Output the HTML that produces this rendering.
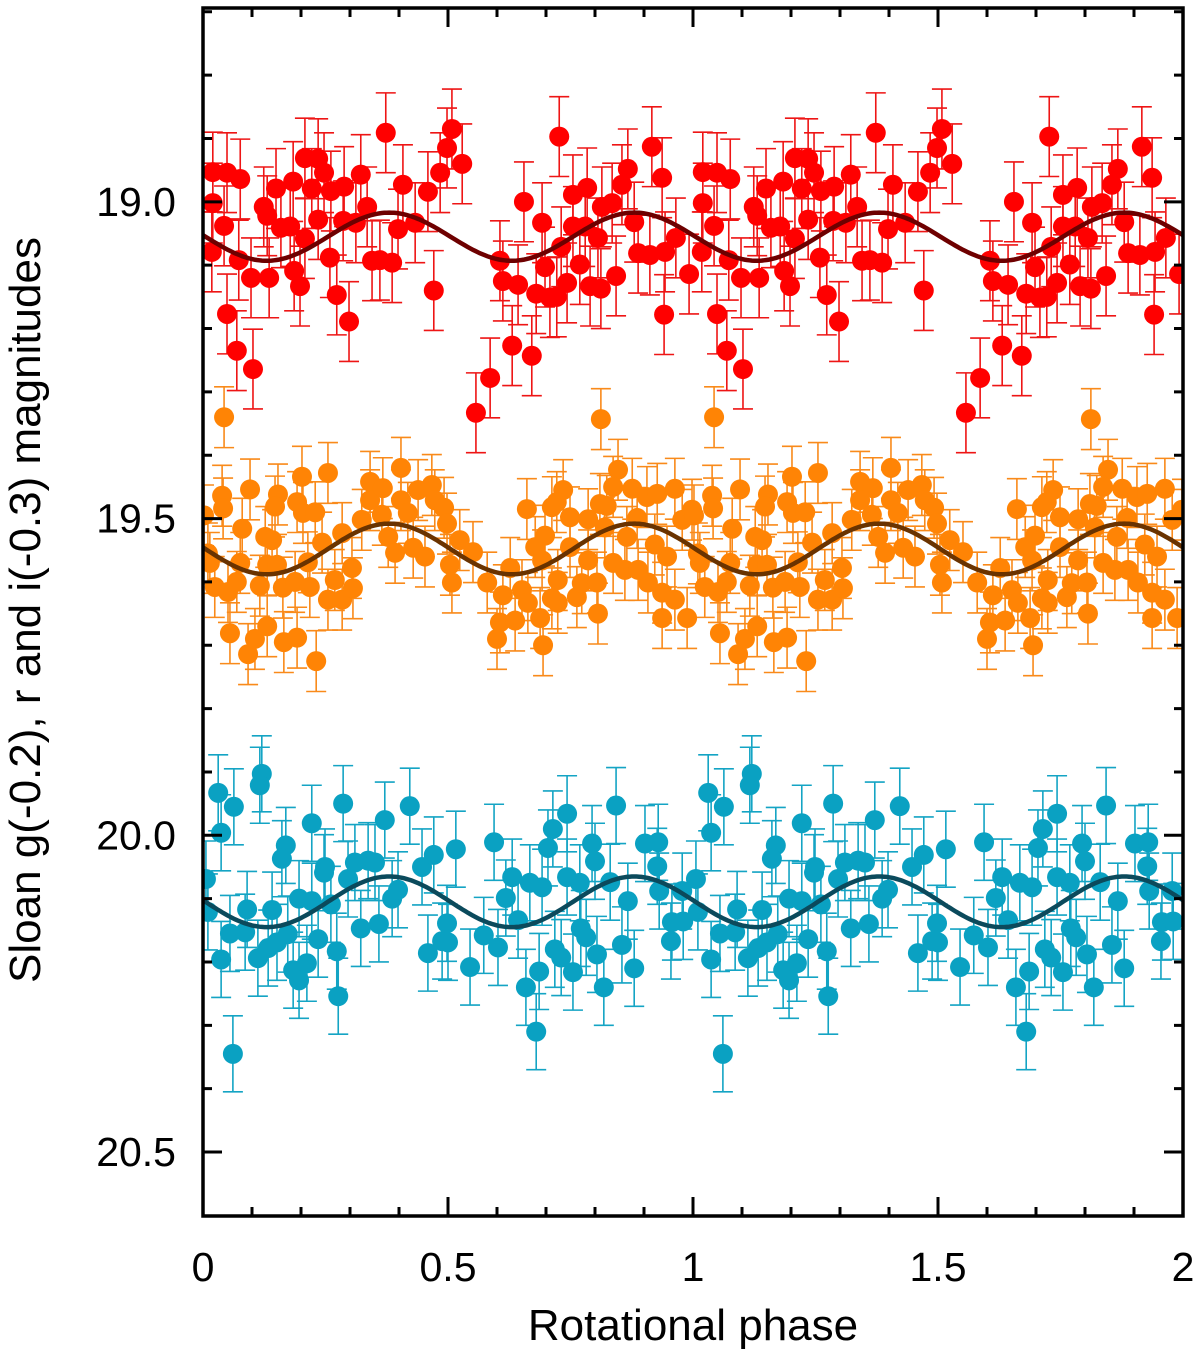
<!DOCTYPE html>
<html><head><meta charset="utf-8"><style>
html,body{margin:0;padding:0;background:#fff;}
svg{display:block;font-family:"Liberation Sans",sans-serif;}
</style></head><body>
<svg id="chart" width="1200" height="1354" viewBox="0 0 1200 1354" xmlns="http://www.w3.org/2000/svg">
<defs><clipPath id="clip"><rect x="203" y="8" width="980" height="1208"/></clipPath></defs>
<g id="series" clip-path="url(#clip)"></g>
<g id="axes"></g>
<text x="693" y="1340" font-size="44" text-anchor="middle">Rotational phase</text>
<text x="0" y="0" font-size="44" text-anchor="middle" transform="translate(40,610) rotate(-90)">Sloan g(-0.2), r and i(-0.3) magnitudes</text>
</svg>
<script>
const redPhase=[.020,.049,.076,.020,.043,.018,.073,.098,.049,.069,.102,.124,.131,.149,.135,.159,.178,.184,.186,.198,.208,.208,.222,.235,.247,.235,.261,.259,.273,.288,.286,.298,.312,.322,.335,.345,.361,.386,.373,.398,.408,.433,.459,.471,.484,.498,.508,.529,.727,.655,.692,.606,.612,.643,.680,.698,.708,.722,.731,.743,.755,.755,.769,.784,.780,.790,.806,.812,.814,.835,.843,.855,.867,.880,.888,.912,.916,.937,.943,.941,.965,.992,.631,.671,.586,.557];
const redMag=[18.953,18.954,18.964,19.002,19.038,19.079,19.092,19.120,19.177,19.235,19.264,19.008,19.022,18.979,19.120,19.041,19.039,18.968,19.109,19.133,18.931,19.058,18.979,18.932,18.954,19.028,18.983,19.088,19.147,18.976,19.030,19.189,19.033,18.957,19.008,19.093,19.092,19.096,18.891,19.043,18.973,19.033,18.984,19.140,18.954,18.915,18.885,18.940,18.897,19.000,19.033,19.093,19.125,19.131,19.145,19.103,19.151,19.150,19.071,19.128,19.039,18.989,19.099,18.978,19.039,19.133,19.057,19.137,19.008,19.002,19.117,18.973,18.948,19.032,19.081,19.084,18.913,18.962,19.079,19.178,19.057,19.114,19.227,19.243,19.278,19.333];
const orangePhase=[.043,.096,.039,.041,.002,.080,.010,.014,.024,.051,.069,.076,.055,.092,.106,.131,.116,.127,.141,.131,.151,.153,.147,.163,.165,.192,.188,.192,.202,.204,.229,.218,.214,.231,.243,.255,.255,.269,.284,.284,.304,.306,.324,.341,.341,.367,.365,.378,.392,.404,.404,.418,.429,.439,.453,.467,.473,.492,.498,.504,.508,.812,.661,.735,.712,.722,.749,.786,.810,.824,.847,.837,.876,.906,.927,.963,.524,.551,.580,.612,.627,.606,.637,.600,.651,.663,.678,.692,.698,.688,.694,.712,.724,.724,.749,.763,.773,.786,.804,.806,.820,.837,.861,.865,.886,.888,.908,.922,.937,.947,.963,.937,.988,.978,.998];
const orangeMag=[19.340,19.454,19.464,19.484,19.495,19.516,19.555,19.570,19.608,19.616,19.600,19.570,19.681,19.714,19.690,19.670,19.606,19.529,19.534,19.573,19.573,19.462,19.481,19.609,19.695,19.688,19.600,19.474,19.434,19.491,19.490,19.608,19.569,19.725,19.538,19.428,19.628,19.597,19.628,19.523,19.578,19.610,19.502,19.442,19.471,19.452,19.494,19.529,19.554,19.420,19.471,19.491,19.546,19.455,19.560,19.447,19.471,19.483,19.508,19.573,19.601,19.343,19.485,19.455,19.482,19.474,19.498,19.501,19.477,19.480,19.423,19.450,19.453,19.466,19.461,19.453,19.534,19.553,19.601,19.621,19.578,19.664,19.661,19.690,19.613,19.633,19.545,19.566,19.527,19.657,19.700,19.626,19.633,19.597,19.545,19.624,19.602,19.566,19.601,19.650,19.514,19.570,19.581,19.529,19.499,19.581,19.601,19.541,19.617,19.560,19.628,19.657,19.657,19.502,19.486];
const cyanPhase=[.031,.063,.037,.120,.116,.006,.010,.055,.086,.090,.037,.061,.112,.141,.133,.151,.173,.169,.161,.196,.222,.184,.212,.196,.222,.249,.247,.235,.261,.273,.276,.286,.296,.310,.337,.351,.322,.359,.371,.386,.398,.422,.447,.471,.459,.488,.498,.516,.594,.631,.618,.643,.573,.602,.545,.500,.667,.692,.704,.714,.743,.743,.769,.794,.800,.686,.659,.680,.718,.731,.755,.771,.782,.804,.818,.831,.843,.855,.867,.880,.902,.929,.927,.931,.957,.955,.980,.978];
const cyanMag=[19.933,19.955,19.996,19.903,19.921,20.069,20.121,20.155,20.153,20.117,20.196,20.345,20.194,20.118,20.178,20.169,20.156,20.016,20.037,20.100,20.104,20.213,20.202,20.229,19.981,20.050,20.059,20.164,20.109,20.183,20.254,19.950,20.069,20.043,20.040,20.043,20.147,20.140,19.976,20.100,20.086,19.954,20.050,20.031,20.186,20.167,20.139,20.022,20.011,20.066,20.099,20.134,20.158,20.177,20.208,20.169,20.075,20.082,20.020,19.990,19.966,20.066,20.075,20.013,20.041,20.215,20.240,20.310,20.180,20.193,20.216,20.147,20.161,20.188,20.240,20.074,19.953,20.173,20.104,20.210,20.013,20.011,20.049,20.088,20.137,20.167,20.136,20.088];
const seriesErr=[0.063,0.048,0.060];
const fitCenter=[19.055,19.548,20.105];
const fitAmp=[0.038,0.040,0.040];
const fitMinPhase=0.13;
const xTicks=["0","0.5","1","1.5","2"];
const yTicks=["19.0","19.5","20.0","20.5"];

const NS="http://www.w3.org/2000/svg";
const X0=203,X1=1183,Y0=8,Y1=1216;
const xMin=0,xMax=2,yMin=18.694,yMax=20.601;
function sx(v){return X0+(v-xMin)/(xMax-xMin)*(X1-X0);}
function sy(v){return Y0+(v-yMin)/(yMax-yMin)*(Y1-Y0);}
function mk(tag,attrs,parent){const e=document.createElementNS(NS,tag);for(const k in attrs)e.setAttribute(k,attrs[k]);parent.appendChild(e);return e;}
const gS=document.getElementById('series'),gA=document.getElementById('axes');

const defs=[
 {name:'red',ph:redPhase,mag:redMag,col:'#ff0000',ecol:'#ee1515',fcol:'#6e0000'},
 {name:'orange',ph:orangePhase,mag:orangeMag,col:'#ff8405',ecol:'#f98a1a',fcol:'#6a3300'},
 {name:'cyan',ph:cyanPhase,mag:cyanMag,col:'#0aa1c2',ecol:'#14a4c4',fcol:'#0b4a5c'}
];
defs.forEach((s,si)=>{
  const g=mk('g',{},gS);
  
  
  const err=seriesErr[si];
  for(let rep=0;rep<2;rep++){
    for(let i=0;i<s.ph.length;i++){
      const x=sx(s.ph[i]+rep),yt=sy(s.mag[i]-err),yb=sy(s.mag[i]+err);
      const eb=mk('path',{d:`M${x},${yt}V${yb}M${x-10},${yt}H${x+10}M${x-10},${yb}H${x+10}`,stroke:s.ecol,'stroke-width':1.6,fill:'none'},g);
      
      
    }
  }
  for(let rep=0;rep<2;rep++){
    for(let i=0;i<s.ph.length;i++){
      const c=mk('circle',{cx:sx(s.ph[i]+rep),cy:sy(s.mag[i]),r:10,fill:s.col},g);
      
      
    }
  }
});
defs.forEach((s,si)=>{
  let d='';
  for(let k=0;k<=400;k++){const p=k/200;const m=fitCenter[si]+fitAmp[si]*Math.cos(4*Math.PI*(p-fitMinPhase));d+=(k?'L':'M')+sx(p).toFixed(1)+','+sy(m).toFixed(1);}
  const c=mk('path',{d:d,stroke:s.fcol,'stroke-width':4.5,fill:'none'},gS);
  
  
});
for(let k=0;k<=20;k++){
  const v=k/10,x=sx(v),major=k%5===0,L=major?19:9;
  const t=mk('path',{d:`M${x},${Y1}V${Y1-L}M${x},${Y0}V${Y0+L}`,stroke:'#000','stroke-width':3},gA);
  
  
}
xTicks.forEach(lbl=>{
  const t=mk('text',{x:sx(parseFloat(lbl)),y:1281,'font-size':41,'text-anchor':'middle'},gA);
  t.textContent=lbl;
  
  
});
for(let k=7;k<=26;k++){
  const v=18+k/10,y=sy(v),major=k%5===0,L=major?19:9;
  if(y<Y0+2||y>Y1-2)continue;
  const t=mk('path',{d:`M${X0},${y}H${X0+L}M${X1},${y}H${X1-L}`,stroke:'#000','stroke-width':3},gA);
  
  
}
yTicks.forEach(lbl=>{
  const t=mk('text',{x:176,y:sy(parseFloat(lbl))+14,'font-size':41,'text-anchor':'end'},gA);
  t.textContent=lbl;
  
  
});
const fr=mk('rect',{x:X0,y:Y0,width:X1-X0,height:Y1-Y0,fill:'none',stroke:'#000','stroke-width':3.5},gA);


</script>
</body></html>
